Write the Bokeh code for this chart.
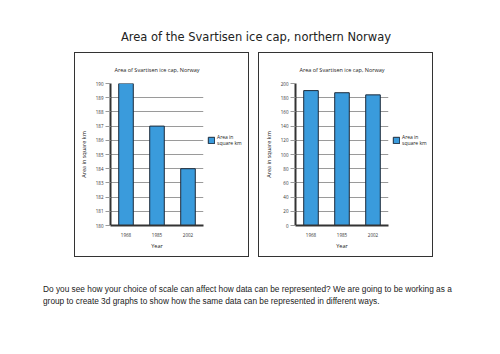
from bokeh.plotting import figure
from bokeh.models import Div, Spacer, Legend, LegendItem, ColumnDataSource, FixedTicker
from bokeh.layouts import column, row
from bokeh.embed import file_html
from bokeh.resources import INLINE

page_title = "Area of the Svartisen ice cap, northern Norway"
chart_title = "Area of Svartisen ice cap, Norway"
years = ["1968", "1985", "2002"]
area = [190, 187, 184]
legend_label = "Area in\nsquare km"
x_label = "Year"
y_label = "Area in square km"
left_range = (180, 190)
left_ticks = list(range(180, 191, 1))
right_range = (0, 200)
right_ticks = list(range(0, 201, 20))
caption_lines = ["Do you see how your choice of scale can affect how data can be represented? We are going to be working as a",
                 "group to create 3d graphs to show how the same data can be represented in different ways."]

FONT = "Open Sans"
BAR_FILL = "#3a9bdc"
BAR_LINE = "#1c2a3a"


def make_chart(yr, ticks, bl):
    src = ColumnDataSource(dict(year=years, area=area))
    p = figure(x_range=years, y_range=yr, width=bl + 93 + 3, height=203,
               min_border_left=bl, min_border_right=3, min_border_top=28, min_border_bottom=31,
               output_backend="svg", toolbar_location=None, title=chart_title)
    r = p.vbar(x="year", top="area", bottom=yr[0], width=0.47, source=src,
               fill_color=BAR_FILL, line_color=BAR_LINE, line_width=1)
    p.title.align = "center"
    p.title.text_font = FONT
    p.title.text_font_size = "5.5px"
    p.title.text_font_style = "normal"
    p.title.text_color = "#222"
    p.title.standoff = 20
    p.outline_line_color = None
    p.xgrid.grid_line_color = None
    p.ygrid.grid_line_color = "#9a9a9a"
    p.ygrid.grid_line_width = 1
    p.yaxis.ticker = FixedTicker(ticks=ticks)
    p.yaxis.minor_tick_line_color = None
    p.yaxis.major_tick_out = 5
    p.yaxis.major_tick_in = 0
    p.yaxis.major_tick_line_color = "#9a9a9a"
    p.yaxis.major_label_standoff = 2
    p.xaxis.major_tick_line_color = None
    p.xaxis.major_label_standoff = 1
    for ax in (p.xaxis, p.yaxis):
        ax.axis_line_color = "#333"
        ax.axis_line_width = 2
        ax.major_label_text_font = FONT
        ax.major_label_text_font_size = "4.5px"
        ax.major_label_text_color = "#333"
        ax.axis_label_text_font = FONT
        ax.axis_label_text_font_size = "5.5px"
        ax.axis_label_text_font_style = "normal"
        ax.axis_label_text_color = "#222"
    p.xaxis.axis_label = x_label
    p.yaxis.axis_label = y_label
    p.xaxis.axis_label_standoff = 2
    p.yaxis.axis_label_standoff = 5

    # legend panel: same series, hidden renderer, only its legend entry shows
    lf = figure(x_range=years, y_range=yr, width=173 - (bl + 93 + 3), height=203,
                min_border=0, output_backend="svg", toolbar_location=None,
                x_axis_type=None, y_axis_type=None)
    lf.outline_line_color = None
    lf.grid.grid_line_color = None
    lr = lf.vbar(x="year", top="area", bottom=yr[0], width=0.47, source=src,
                 fill_color=BAR_FILL, line_color=BAR_LINE, line_width=1, visible=False)
    leg = Legend(items=[LegendItem(label=legend_label, renderers=[lr])],
                 location=(1, 79), orientation="vertical", click_policy="none",
                 label_text_font=FONT, label_text_font_size="5px", label_text_color="#222",
                 glyph_width=8, glyph_height=8, label_standoff=2, padding=0, margin=0,
                 border_line_color=None, background_fill_alpha=0)
    lf.add_layout(leg)
    return row(p, lf, margin=0, styles={"border": "1.5px solid #333"})


c1 = make_chart(left_range, left_ticks, 35)
c2 = make_chart(right_range, right_ticks, 36)

title_div = Div(text=page_title, width=500, height=52, margin=0,
                styles={"font-family": "DejaVu Sans", "font-size": "11.5px", "color": "#222",
                        "text-align": "center", "padding-top": "29px", "box-sizing": "border-box",
                        "width": "512px"})
cap_style = {"font-family": "Liberation Sans", "font-size": "8.3px", "color": "#222", "white-space": "nowrap"}
cap1 = Div(text=caption_lines[0], width=460, height=12, margin=(27, 0, 0, 43), styles=cap_style)
cap2 = Div(text=caption_lines[1], width=460, height=12, margin=(0, 0, 0, 43), styles=cap_style)

layout = column(title_div,
                row(Spacer(width=74, height=10), c1, Spacer(width=9, height=10), c2, margin=0),
                cap1, cap2, margin=0)

open("out.html", "w").write(file_html(layout, INLINE))
